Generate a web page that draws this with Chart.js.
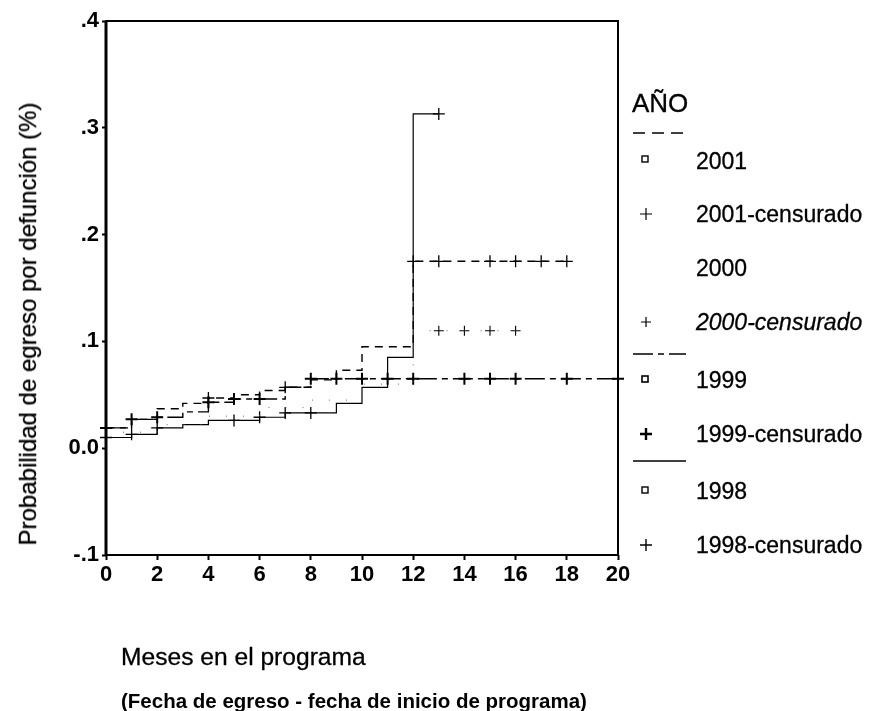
<!DOCTYPE html>
<html>
<head>
<meta charset="utf-8">
<script src="https://cdn.jsdelivr.net/npm/chart.js@4.4.1/dist/chart.umd.min.js"></script>
<style>
  body { margin: 0; background: #fff; }
  #wrap { position: relative; width: 871px; height: 711px; overflow: hidden; font-family: 'Liberation Sans', Arial, sans-serif; color: #000; }
  #chart { position: absolute; left: 0; top: 0; }
  .lbl { position: absolute; white-space: nowrap; line-height: 30px; height: 30px; -webkit-text-stroke: 0.3px #000; }
  .leg { font-size: 23px; left: 696px; }
</style>
</head>
<body>
<div id="wrap">
  <canvas id="chart" width="871" height="711"></canvas>

  <div class="lbl" style="top:324px; font-size:24px; transform: translate(-50%, -50%) rotate(-90deg); transform-origin: center; left:28px;">Probabilidad de egreso por defunción (%)</div>

  <div class="lbl" style="left:121px; top:642px; font-size:24.6px;">Meses en el programa</div>
  <div class="lbl" style="left:121px; top:686px; font-size:20.5px; font-weight:bold; -webkit-text-stroke:0;">(Fecha de egreso - fecha de inicio de programa)</div>

  <div class="lbl" style="left:632px; top:88px; font-size:26px;">AÑO</div>
  <svg style="position:absolute; left:630px; top:125px;" width="60" height="16"><line x1="3" y1="8" x2="56" y2="8" stroke="#000" stroke-width="1.6" stroke-dasharray="12,7"/></svg>
  <svg style="position:absolute; left:630px; top:346px;" width="60" height="16"><line x1="3" y1="8" x2="56" y2="8" stroke="#000" stroke-width="1.6" stroke-dasharray="20,5,6,5"/></svg>
  <svg style="position:absolute; left:630px; top:453px;" width="60" height="16"><line x1="3" y1="8" x2="56" y2="8" stroke="#000" stroke-width="1.6"/></svg>

  <svg style="position:absolute; left:640px; top:154px;" width="12" height="12"><rect x="2" y="2" width="6" height="6" fill="none" stroke="#000" stroke-width="1.4"/></svg>
  <svg style="position:absolute; left:640px; top:374px;" width="12" height="12"><rect x="2" y="2" width="6" height="6" fill="none" stroke="#000" stroke-width="1.6"/></svg>
  <svg style="position:absolute; left:640px; top:485px;" width="12" height="12"><rect x="2" y="2" width="6" height="6" fill="none" stroke="#000" stroke-width="1.4"/></svg>

  <svg style="position:absolute; left:639px; top:207px;" width="14" height="14"><path d="M7 1V13M1 7H13" stroke="#000" stroke-width="1.2"/></svg>
  <svg style="position:absolute; left:639px; top:315px;" width="14" height="14"><path d="M7 2V12M2 7H12" stroke="#000" stroke-width="1.2"/></svg>
  <svg style="position:absolute; left:639px; top:427px;" width="14" height="14"><path d="M7 1V13M1 7H13" stroke="#000" stroke-width="2.4"/></svg>
  <svg style="position:absolute; left:639px; top:538px;" width="14" height="14"><path d="M7 1V13M1 7H13" stroke="#000" stroke-width="1.4"/></svg>

  <div class="lbl leg" style="top:146px;">2001</div>
  <div class="lbl leg" style="top:199px;">2001-censurado</div>
  <div class="lbl leg" style="top:253px;">2000</div>
  <div class="lbl leg" style="top:307px; font-style:italic;">2000-censurado</div>
  <div class="lbl leg" style="top:365px;">1999</div>
  <div class="lbl leg" style="top:419px;">1999-censurado</div>
  <div class="lbl leg" style="top:476px;">1998</div>
  <div class="lbl leg" style="top:530px;">1998-censurado</div>
</div>

<script>
// tick labels
const xTicks = [0, 2, 4, 6, 8, 10, 12, 14, 16, 18, 20];
const yTicks = [-0.1, 0.0, 0.1, 0.2, 0.3, 0.4];

// step curves (month where the level starts, cumulative probability)
const months2001 = [0, 1, 2, 3, 4, 5, 6, 7, 8, 9, 10, 12, 18];
const prob2001   = [0.019, 0.027, 0.037, 0.042, 0.047, 0.050, 0.054, 0.057, 0.064, 0.073, 0.095, 0.175, 0.175];

const months2000 = [0, 2, 4, 6, 8, 10, 12, 16];
const prob2000   = [0.015, 0.022, 0.030, 0.038, 0.045, 0.060, 0.110, 0.110];

const months1999 = [0, 1, 2, 3, 4, 5, 7, 8, 20];
const prob1999   = [0.019, 0.027, 0.029, 0.034, 0.043, 0.046, 0.057, 0.065, 0.065];

const months1998 = [0, 1, 2, 3, 4, 6, 7, 9, 10, 11, 12, 13];
const prob1998   = [0.010, 0.013, 0.019, 0.022, 0.026, 0.029, 0.033, 0.042, 0.057, 0.085, 0.313, 0.313];

// censored observations
const cens2001X = [4, 7, 12, 13, 15, 16, 17, 18];
const cens2001Y = [0.047, 0.057, 0.175, 0.175, 0.175, 0.175, 0.175, 0.175];

const cens2000X = [13, 14, 15, 16];
const cens2000Y = [0.110, 0.110, 0.110, 0.110];

const cens1999X = [0, 1, 2, 4, 5, 6, 8, 9, 10, 11, 12, 14, 15, 16, 18, 20];
const cens1999Y = [0.019, 0.027, 0.029, 0.043, 0.046, 0.046, 0.065, 0.065, 0.065, 0.065, 0.065, 0.065, 0.065, 0.065, 0.065, 0.065];

const cens1998X = [0, 1, 2, 5, 6, 7, 8, 13];
const cens1998Y = [0.010, 0.013, 0.019, 0.026, 0.029, 0.033, 0.033, 0.313];

const pts = (xs, ys) => xs.map((x, i) => ({ x: x, y: ys[i] }));

function curve(label, xs, ys, dash, width, color) {
  return {
    type: 'line', label: label, data: pts(xs, ys), stepped: true,
    borderColor: color || '#000', borderWidth: width, borderDash: dash,
    pointRadius: 0, fill: false, clip: false
  };
}
function censored(label, xs, ys, width, r) {
  return {
    type: 'scatter', label: label, data: pts(xs, ys),
    pointStyle: 'cross', pointRadius: r, borderColor: '#000',
    pointBorderWidth: width, borderWidth: width, clip: false
  };
}

const framePlugin = {
  id: 'frame',
  afterDraw(chart) {
    const a = chart.chartArea, c = chart.ctx;
    c.save();
    c.strokeStyle = '#000';
    c.lineWidth = 2;
    c.strokeRect(a.left, a.top, a.right - a.left, a.bottom - a.top);
    c.lineWidth = 3;
    c.beginPath(); c.moveTo(a.left, a.top); c.lineTo(a.left, a.bottom); c.stroke();
    c.restore();
  }
};

new Chart(document.getElementById('chart'), {
  data: {
    datasets: [
      curve('2001', months2001, prob2001, [8, 6], 1.4),
      curve('2000', months2000, prob2000, [1, 16], 1, '#666'),
      curve('1999', months1999, prob1999, [20, 5, 6, 5], 1.4),
      curve('1998', months1998, prob1998, [], 1.2),
      censored('2001-censurado', cens2001X, cens2001Y, 1.3, 6),
      censored('2000-censurado', cens2000X, cens2000Y, 1.1, 5),
      censored('1999-censurado', cens1999X, cens1999Y, 2, 6),
      censored('1998-censurado', cens1998X, cens1998Y, 1.3, 6)
    ]
  },
  options: {
    responsive: false,
    animation: false,
    layout: { padding: { left: 0, top: 21, right: 253, bottom: 116 } },
    plugins: { legend: { display: false }, tooltip: { enabled: false } },
    scales: {
      x: {
        type: 'linear', min: 0, max: 20,
        afterFit: s => { s.height = 40; },
        afterBuildTicks: s => { s.ticks = xTicks.map(v => ({ value: v })); },
        grid: { drawOnChartArea: false, drawTicks: true, tickLength: 5, color: '#000', tickWidth: 2 },
        border: { display: false },
        ticks: { color: '#000', padding: 2, maxRotation: 0, font: { family: "'Liberation Sans', Arial, sans-serif", size: 22, weight: 'bold' } }
      },
      y: {
        type: 'linear', min: -0.1, max: 0.4,
        afterFit: s => { s.width = 106; },
        afterBuildTicks: s => { s.ticks = yTicks.map(v => ({ value: v })); },
        grid: { drawOnChartArea: false, drawTicks: true, tickLength: 4, color: '#000', tickWidth: 2 },
        border: { display: false },
        ticks: {
          color: '#000', padding: 3,
          font: { family: "'Liberation Sans', Arial, sans-serif", size: 22, weight: 'bold' },
          callback: v => {
            if (Math.abs(v) < 1e-9) return '0.0';
            return (v < 0 ? '-' : '') + '.' + Math.round(Math.abs(v) * 10);
          }
        }
      }
    }
  },
  plugins: [framePlugin]
});
</script>
</body>
</html>
